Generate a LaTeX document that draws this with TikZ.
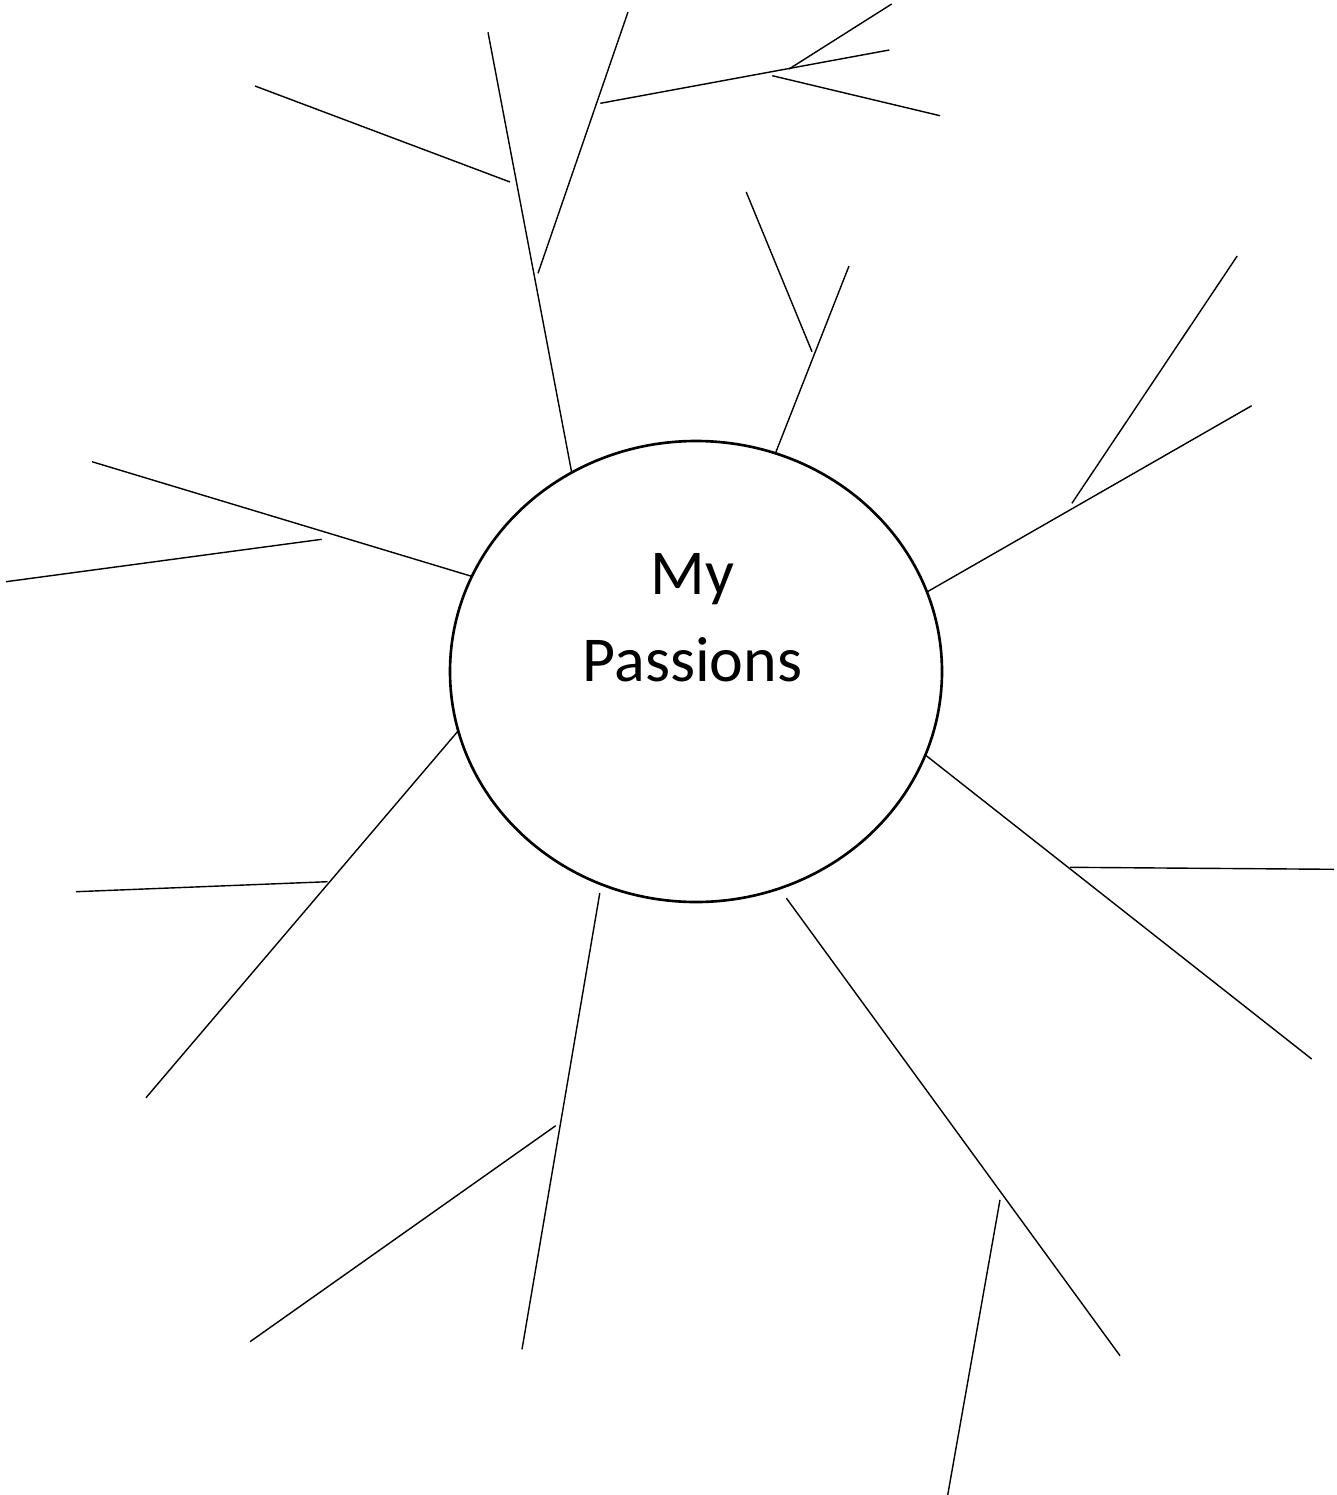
\documentclass[tikz,border=0pt]{standalone}
\usepackage{fontspec}
\setmainfont{Carlito}
\usetikzlibrary{shapes.geometric}
\tikzset{
    hub/.style = {draw, ellipse, line width=0.75pt, minimum width=4.92cm, minimum height=4.61cm, inner sep=0pt, outer sep=0pt},
    limb/.style = {line width=0.4pt},
}
\begin{document}
\begin{tikzpicture}
        \useasboundingbox (0,0) rectangle (13.37,-14.95);
        \node[hub] (pass) at (6.96,-6.715) {};
        \node[align=center, inner sep=0pt, font=\fontsize{18.2}{24.75}\selectfont] (title) at (6.925,-6.175) {My\\Passions};

        % free ends of the limbs
        \coordinate (a1) at (4.88,-0.323);
        \coordinate (a2) at (8.49,-2.66);
        \coordinate (a3) at (12.517,-4.057);
        \coordinate (a4) at (13.117,-10.59);
        \coordinate (a5) at (11.20,-13.557);
        \coordinate (a6) at (5.22,-13.493);
        \coordinate (a7) at (1.46,-10.977);
        \coordinate (a8) at (0.92,-4.617);

        \foreach \ang/\tip in {122.1/a1, 70.3/a2, 19.31/a3, -20.83/a4, 194.46/a7, 157.13/a8} {
            \draw[limb] (pass.\ang) -- (\tip);
        }
        \draw[limb, shorten <=0.12cm] (pass.-69.9) -- (a5);
        \draw[limb, shorten <=0.09cm] (pass.-114.54) -- (a6);

        % side twigs
        \foreach \xa/\ya/\xb/\yb in {2.55/-0.86/5.10/-1.82, 5.38/-2.733/6.28/-0.12, 6.003/-1.033/8.893/-0.50,
                                     7.89/-0.69/8.917/-0.04, 7.723/-0.757/9.40/-1.157, 7.462/-1.92/8.12/-3.517,
                                     10.719/-5.033/12.372/-2.56, 10.70/-8.673/13.34/-8.693, 10.00/-11.998/9.477/-14.95,
                                     5.557/-11.257/2.50/-13.417, 0.76/-8.917/3.277/-8.817, 0.06/-5.817/3.217/-5.393} {
            \draw[limb] (\xa,\ya) -- (\xb,\yb);
        }
    \end{tikzpicture}
\end{document}
